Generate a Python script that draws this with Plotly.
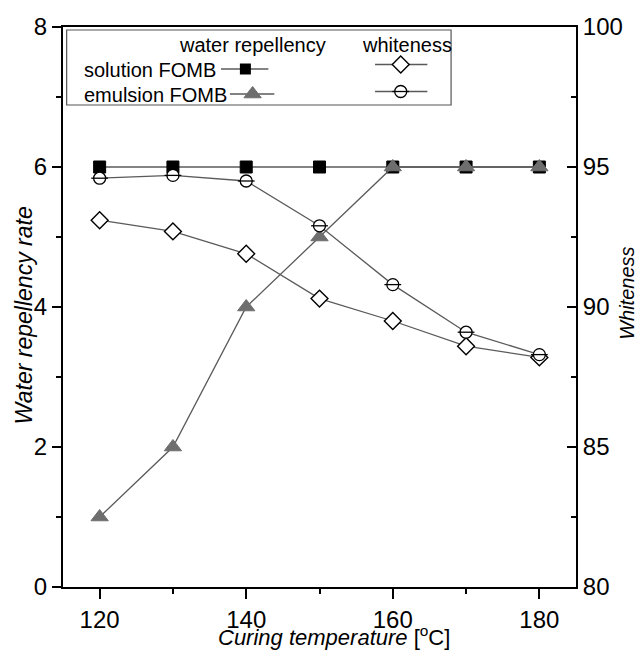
import plotly.graph_objects as go

# ---- data ----
temps = [120, 130, 140, 150, 160, 170, 180]
wr_solution = [6, 6, 6, 6, 6, 6, 6]
wr_emulsion = [1, 2, 4, 5, 6, 6, 6]
white_solution = [93.1, 92.7, 91.9, 90.3, 89.5, 88.6, 88.2]
white_emulsion = [94.6, 94.7, 94.5, 92.9, 90.8, 89.1, 88.3]

x_ticks = [120, 140, 160, 180]
y_left_ticks = [0, 2, 4, 6, 8]
y_right_ticks = [80, 85, 90, 95, 100]

# ---- geometry helpers (pixel -> paper) ----
W, H = 635, 653
L, R, T, B = 63, 582.5, 27, 587


def PX(x):
    return (x - L) / (R - L)


def PY(y):
    return (B - y) / (B - T)


FONT = "Liberation Sans, Arial, Helvetica, sans-serif"
LINE_C = "#5a5a5a"
TRI_C = "#6e6e6e"

fig = go.Figure()

fig.add_trace(go.Scatter(
    x=temps, y=wr_solution, mode="lines+markers", yaxis="y",
    line=dict(color=LINE_C, width=1.3),
    marker=dict(symbol="square", size=12, color="black", line=dict(color="black", width=1)),
    showlegend=False, cliponaxis=False))
fig.add_trace(go.Scatter(
    x=temps, y=wr_emulsion, mode="lines+markers", yaxis="y",
    line=dict(color=LINE_C, width=1.3),
    marker=dict(symbol="triangle-up", size=15, color=TRI_C, line=dict(color=TRI_C, width=1)),
    showlegend=False, cliponaxis=False))
fig.add_trace(go.Scatter(
    x=temps, y=white_solution, mode="lines+markers", yaxis="y2",
    line=dict(color=LINE_C, width=1.3),
    marker=dict(symbol="diamond", size=13, color="white", line=dict(color="black", width=1.4)),
    showlegend=False, cliponaxis=False))
fig.add_trace(go.Scatter(
    x=temps, y=white_emulsion, mode="lines+markers", yaxis="y2",
    line=dict(color=LINE_C, width=1.3),
    marker=dict(symbol="circle", size=12, color="white", line=dict(color="black", width=1.3)),
    showlegend=False, cliponaxis=False))
fig.add_trace(go.Scatter(
    x=temps, y=white_emulsion, mode="markers", yaxis="y2",
    marker=dict(symbol="line-ew", size=12, color="black", line=dict(color="black", width=1.3)),
    showlegend=False, cliponaxis=False, hoverinfo="skip"))

# ---- custom legend (glyphs on a hidden paper-like axis) ----
leg_sq = ([PX(247.7)], [PY(69)])
leg_tri = ([PX(255)], [PY(94)])
leg_dia = ([PX(405)], [PY(64.5)])
leg_cir = ([PX(405)], [PY(91.5)])
fig.add_trace(go.Scatter(x=leg_sq[0], y=leg_sq[1], xaxis="x3", yaxis="y3", mode="markers",
                         marker=dict(symbol="square", size=11, color="black"),
                         showlegend=False, cliponaxis=False, hoverinfo="skip"))
fig.add_trace(go.Scatter(x=leg_tri[0], y=leg_tri[1], xaxis="x3", yaxis="y3", mode="markers",
                         marker=dict(symbol="triangle-up", size=15, color=TRI_C, line=dict(color=TRI_C, width=1)),
                         showlegend=False, cliponaxis=False, hoverinfo="skip"))
fig.add_trace(go.Scatter(x=leg_dia[0], y=leg_dia[1], xaxis="x3", yaxis="y3", mode="markers",
                         marker=dict(symbol="diamond", size=13, color="white", line=dict(color="black", width=1.4)),
                         showlegend=False, cliponaxis=False, hoverinfo="skip"))
fig.add_trace(go.Scatter(x=leg_cir[0], y=leg_cir[1], xaxis="x3", yaxis="y3", mode="markers",
                         marker=dict(symbol="circle", size=12, color="white", line=dict(color="black", width=1.3)),
                         showlegend=False, cliponaxis=False, hoverinfo="skip"))
fig.add_trace(go.Scatter(x=leg_cir[0], y=leg_cir[1], xaxis="x3", yaxis="y3", mode="markers",
                         marker=dict(symbol="line-ew", size=12, color="black", line=dict(color="black", width=1.3)),
                         showlegend=False, cliponaxis=False, hoverinfo="skip"))

shapes = [
    dict(type="rect", xref="paper", yref="paper", x0=PX(66.7), x1=PX(456), y0=PY(30), y1=PY(105),
         line=dict(color="#555555", width=1.2), fillcolor="rgba(0,0,0,0)", layer="below"),
    dict(type="line", xref="paper", yref="paper", x0=PX(223), x1=PX(271), y0=PY(69), y1=PY(69),
         line=dict(color=LINE_C, width=1.3), layer="below"),
    dict(type="line", xref="paper", yref="paper", x0=PX(232), x1=PX(277), y0=PY(94), y1=PY(94),
         line=dict(color=LINE_C, width=1.3), layer="below"),
    dict(type="line", xref="paper", yref="paper", x0=PX(379), x1=PX(432), y0=PY(64.5), y1=PY(64.5),
         line=dict(color=LINE_C, width=1.3), layer="below"),
    dict(type="line", xref="paper", yref="paper", x0=PX(379), x1=PX(432), y0=PY(91.5), y1=PY(91.5),
         line=dict(color=LINE_C, width=1.3), layer="below"),
]

ann_font = dict(family=FONT, size=20, color="black")
annotations = [
    dict(text="water repellency", x=PX(255), y=PY(45), xref="paper", yref="paper",
         xanchor="center", yanchor="middle", showarrow=False, font=ann_font),
    dict(text="whiteness", x=PX(411), y=PY(45), xref="paper", yref="paper",
         xanchor="center", yanchor="middle", showarrow=False, font=ann_font),
    dict(text="solution FOMB", x=PX(82), y=PY(70), xref="paper", yref="paper",
         xanchor="left", yanchor="middle", showarrow=False, font=ann_font),
    dict(text="emulsion FOMB", x=PX(82), y=PY(95), xref="paper", yref="paper",
         xanchor="left", yanchor="middle", showarrow=False, font=ann_font),
    dict(text="<i>Curing temperature</i> [<sup>o</sup>C]", x=PX(337), y=PY(652), xref="paper", yref="paper",
         xanchor="center", yanchor="bottom", showarrow=False, font=dict(family=FONT, size=22, color="black")),
    dict(text="<i>Water repellency rate</i>", x=PX(23), y=PY(316), xref="paper", yref="paper",
         xanchor="center", yanchor="middle", textangle=-90, showarrow=False,
         font=dict(family=FONT, size=23, color="black")),
    dict(text="<i>Whiteness</i>", x=PX(634), y=PY(293), xref="paper", yref="paper",
         xanchor="center", yanchor="middle", textangle=-90, showarrow=False,
         font=dict(family=FONT, size=20, color="black")),
]

tick_font = dict(family=FONT, size=24, color="black")

fig.update_layout(
    width=W, height=H,
    margin=dict(l=L, r=W - R, t=T, b=H - B, pad=0),
    paper_bgcolor="white", plot_bgcolor="white",
    showlegend=False,
    font=dict(family=FONT, color="black"),
    xaxis=dict(range=[115, 185], tickvals=x_ticks, ticks="outside", ticklen=10, tickwidth=2,
               tickcolor="black", showline=True, linewidth=2, linecolor="black", mirror=True,
               showgrid=False, zeroline=False, tickfont=tick_font,
               minor=dict(dtick=10, tick0=0, ticks="outside", ticklen=5, tickwidth=2, tickcolor="black", showgrid=False)),
    yaxis=dict(range=[0, 8], tickvals=y_left_ticks, ticks="outside", ticklen=9, tickwidth=2,
               tickcolor="black", showline=True, linewidth=2, linecolor="black",
               showgrid=False, zeroline=False, tickfont=tick_font,
               minor=dict(dtick=1, tick0=0, ticks="outside", ticklen=5, tickwidth=2, tickcolor="black", showgrid=False)),
    yaxis2=dict(range=[80, 100], tickvals=y_right_ticks, overlaying="y", side="right",
                ticks="inside", ticklen=9, tickwidth=2, tickcolor="black",
                showline=True, linewidth=2, linecolor="black", showgrid=False, zeroline=False,
                tickfont=tick_font,
                minor=dict(dtick=2.5, tick0=0, ticks="inside", ticklen=5, tickwidth=2, tickcolor="black", showgrid=False)),
    xaxis3=dict(range=[0, 1], overlaying="x", visible=False, fixedrange=True),
    yaxis3=dict(range=[0, 1], overlaying="y", visible=False, fixedrange=True),
    shapes=shapes,
    annotations=annotations,
)

fig.write_html("out.html")
